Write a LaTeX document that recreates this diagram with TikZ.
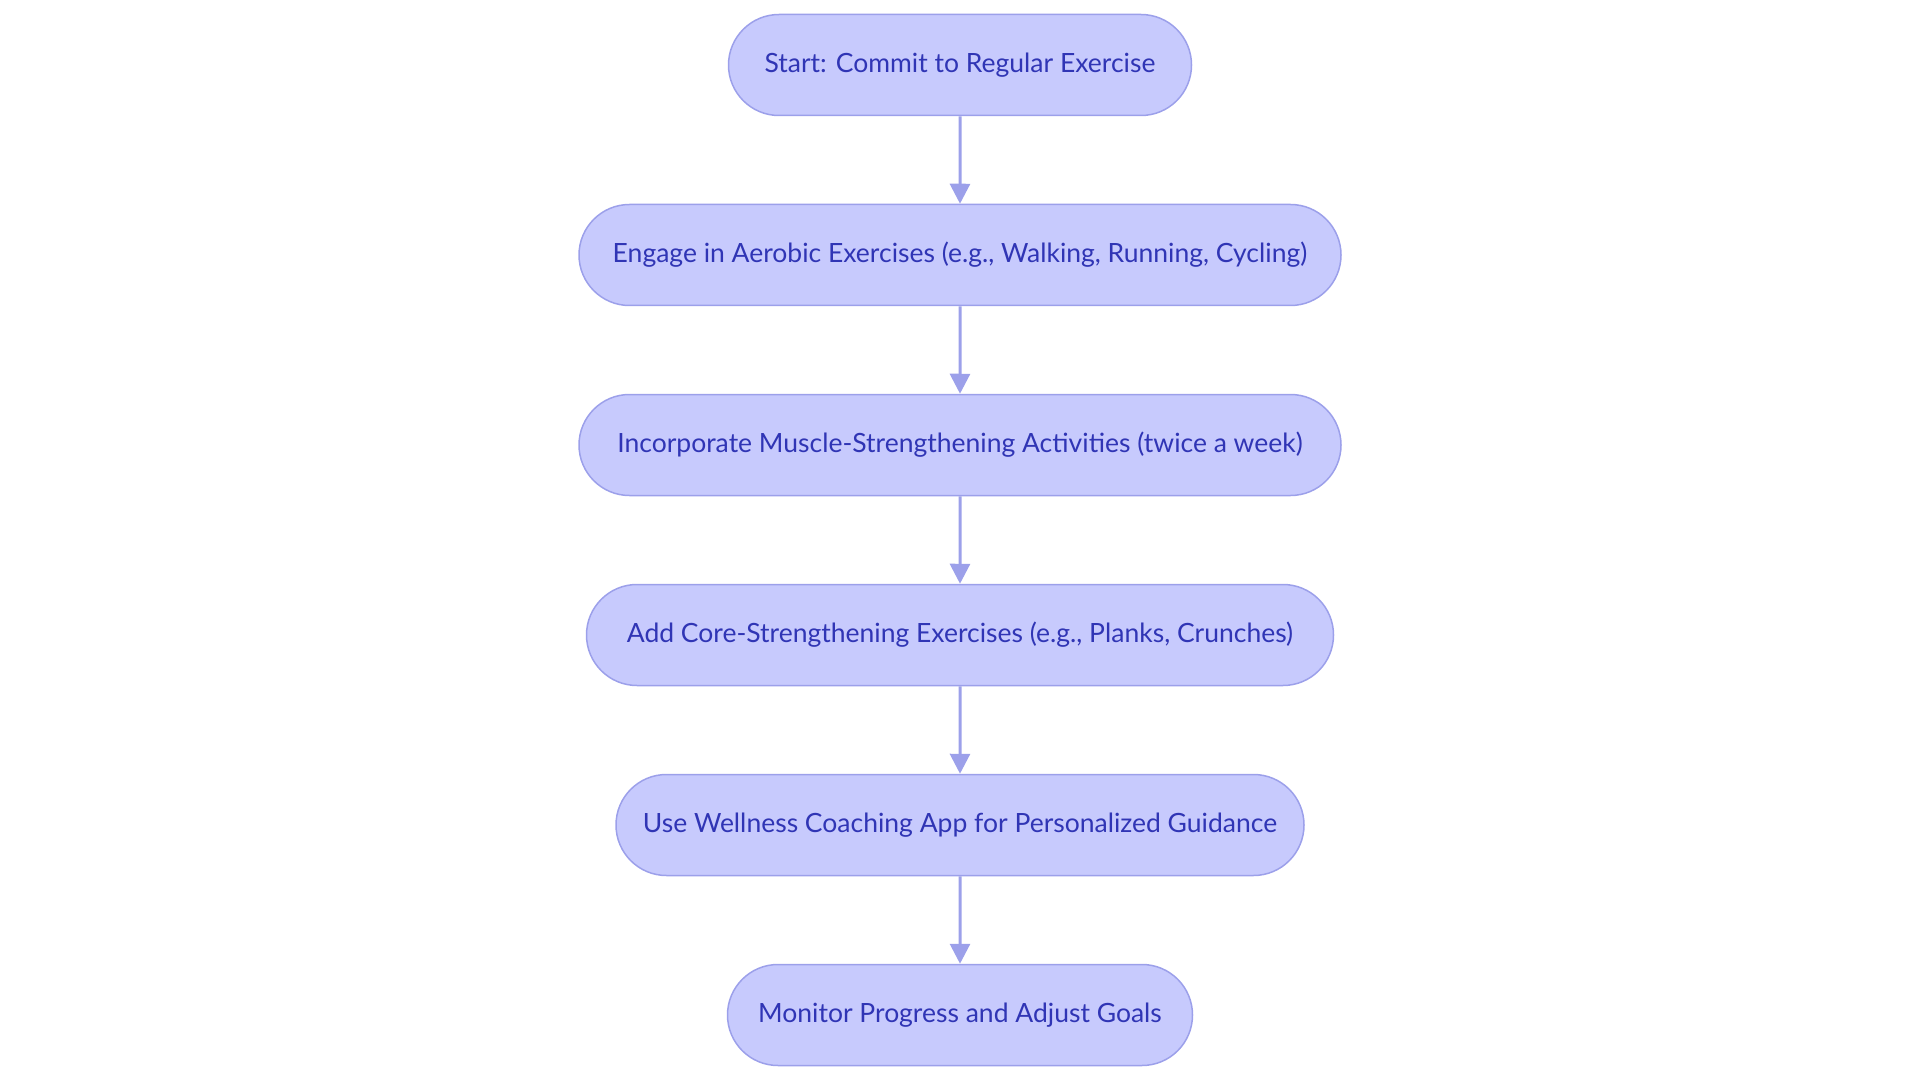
\documentclass[tikz,border=0pt]{standalone}
\usepackage{fontspec}
\setmainfont{Lato}
\usepackage{xcolor}
\usepackage{tikz}
\usetikzlibrary{positioning, shapes.misc, arrows.meta}

\definecolor{stepfill}{HTML}{C7CAFD}
\definecolor{stepline}{HTML}{9CA0EA}
\definecolor{steptext}{HTML}{3035B5}

\begin{document}
\begin{tikzpicture}[x=1pt, y=-1pt, >={Triangle[width=20pt,length=20pt]}, node distance=87.5pt,
    stepbox/.style={draw=stepline, line width=1.5pt, fill=stepfill, rounded rectangle,
      minimum height=101pt, inner sep=0pt, text=steptext, font=\fontsize{26.5}{31}\selectfont},
    flow/.style={->, draw=stepline, fill=stepline, line width=3pt}]
    \useasboundingbox (0,0) rectangle (1920,1083);
    \node (start) [stepbox, minimum width=463pt] at (960,65) {Start: Commit to Regular Exercise};
    \node (aerobic) [stepbox, minimum width=762pt, below=of start] {Engage in Aerobic Exercises (e.g., Walking, Running, Cycling)};
    \node (muscle) [stepbox, minimum width=762pt, below=of aerobic] {Incorporate Muscle-Strengthening Activities (twice a week)};
    \node (core) [stepbox, minimum width=747pt, below=of muscle] {Add Core-Strengthening Exercises (e.g., Planks, Crunches)};
    \node (app) [stepbox, minimum width=688pt, below=of core] {Use Wellness Coaching App for Personalized Guidance};
    \node (monitor) [stepbox, minimum width=465pt, below=of app] {Monitor Progress and Adjust Goals};
    \draw[flow] (start) -- (aerobic);
    \draw[flow] (aerobic) -- (muscle);
    \draw[flow] (muscle) -- (core);
    \draw[flow] (core) -- (app);
    \draw[flow] (app) -- (monitor);
  \end{tikzpicture}
\end{document}
